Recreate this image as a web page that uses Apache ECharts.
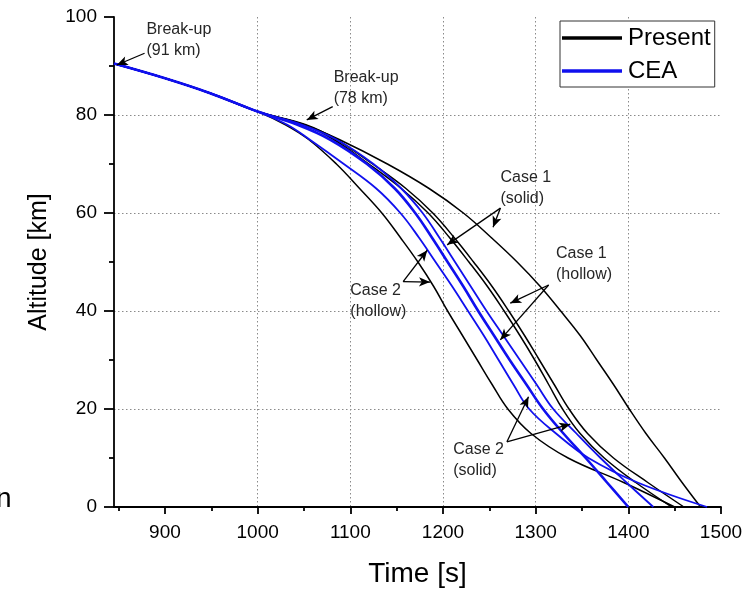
<!DOCTYPE html>
<html><head><meta charset="utf-8">
<script src="https://cdn.jsdelivr.net/npm/echarts@6/dist/echarts.min.js"></script>
<style>html,body{margin:0;padding:0;background:#fff}#c{width:752px;height:589px}</style>
</head><body><div id="c"></div>
<script>
// Altitude levels (km) shared by all trajectories
const altitudes = [90.5, 87.5, 84.5, 80.7, 78, 75, 70, 65, 60, 55, 50, 45, 40, 35, 30, 25, 20, 15, 10, 5, 0];
// Time (s) at which each trajectory reaches the altitude levels above
const presentCase2Hollow = [845, 900, 948, 1000, 1030, 1055, 1085, 1110, 1134, 1154, 1173, 1190, 1205, 1221, 1237, 1253, 1270, 1295, 1335, 1395, 1450];
const presentCase1Hollow = [845, 900, 948, 1000, 1050, 1082, 1120, 1155, 1184, 1207, 1228, 1248, 1266, 1283, 1299, 1314, 1329, 1348, 1374, 1408, 1447];
const presentCase2Solid  = [845, 900, 948, 1000, 1052, 1085, 1124, 1160, 1189, 1212, 1233, 1253, 1271, 1288, 1304, 1320, 1336, 1356, 1384, 1421, 1460];
const presentCase1Solid  = [845, 900, 948, 1000, 1050, 1088, 1140, 1185, 1222, 1252, 1280, 1305, 1327, 1348, 1366, 1384, 1401, 1419, 1439, 1458, 1478];
const ceaCase2Hollow = [845, 900, 948, 1000, 1032, 1056, 1093, 1128, 1154, 1174, 1192, 1210, 1227, 1244, 1260, 1276, 1293, 1322, 1357, 1410, 1485];
const ceaCase1Hollow = [845, 900, 948, 1000, 1043, 1078, 1118, 1148, 1170, 1188, 1205, 1222, 1238, 1255, 1272, 1290, 1308, 1330, 1354, 1377, 1400];
const ceaCase1Solid  = [845, 900, 948, 1000, 1048, 1085, 1125, 1155, 1178, 1196, 1213, 1230, 1247, 1265, 1283, 1301, 1319, 1344, 1370, 1398, 1427];

const xMajorTicks = [900, 1000, 1100, 1200, 1300, 1400, 1500];
const xMinorTicks = [850, 950, 1050, 1150, 1250, 1350, 1450];
const legendNames = ['Present', 'CEA'];

// Annotation texts with their anchor (time, altitude)
const noteTexts = ['Break-up\n(91 km)', 'Break-up\n(78 km)', 'Case 1\n(solid)', 'Case 1\n(hollow)', 'Case 2\n(hollow)', 'Case 2\n(solid)'];
const noteTimes = [880, 1082, 1262, 1322, 1100, 1211];
const noteAlts  = [99.5, 89.8, 69.3, 53.8, 46.3, 13.8];
// Arrows: tail (time, alt) -> head (time, alt)
const arrowTailT = [878, 1081, 1262, 1262, 1314, 1314, 1157, 1157, 1269, 1269];
const arrowTailA = [92.6, 81.7, 61, 61, 45.3, 45.3, 46, 46, 13.3, 13.3];
const arrowHeadT = [848, 1053, 1204.5, 1254, 1272.6, 1261.8, 1183, 1186, 1292.3, 1337.4];
const arrowHeadA = [90.2, 79, 53.5, 57.1, 41.6, 34.1, 52.4, 45.9, 22.5, 16.9];

const FONT = 'Liberation Sans, Arial, sans-serif';
const chart = echarts.init(document.getElementById('c'), null, {renderer: 'canvas'});

function mk(name, times, color, width) {
  return {
    type: 'line', name: name, data: times.map((t, i) => [t, altitudes[i]]),
    showSymbol: false, symbol: 'none', smooth: 0.4,
    lineStyle: {color: color, width: width}, itemStyle: {color: color},
    emphasis: {disabled: true}, silent: true, z: color === '#000' ? 2 : 3
  };
}

const blue = '#1010ee';
const series = [
  mk('Present', presentCase2Hollow, '#000', 1.5),
  mk('Present', presentCase1Hollow, '#000', 1.5),
  mk('Present', presentCase2Solid, '#000', 1.5),
  mk('Present', presentCase1Solid, '#000', 1.5),
  mk('CEA', ceaCase2Hollow, blue, 1.8),
  mk('CEA', ceaCase1Hollow, blue, 2.6),
  mk('CEA', ceaCase1Solid, blue, 1.8)
];
series[0].markLine = {
  silent: true, symbol: ['none', 'arrow'], symbolSize: [7, 11], animation: false,
  label: {show: false}, emphasis: {disabled: true},
  lineStyle: {color: '#000', width: 1.3, type: 'solid'},
  data: arrowTailT.map((t, i) => [{coord: [t, arrowTailA[i]]}, {coord: [arrowHeadT[i], arrowHeadA[i]]}])
};

const axisLineStyle = {color: '#000', width: 1.8};
const splitStyle = {color: '#8a8a8a', width: 1, type: [1.5, 2.5]};
const plain = v => String(v);

chart.setOption({
  animation: false,
  backgroundColor: '#fff',
  grid: {left: 114, right: 31, top: 17, bottom: 82, containLabel: false, outerBoundsMode: 'none'},
  legend: {
    data: legendNames, orient: 'vertical', left: 560, top: 21,
    padding: [5, 4, 4, 2], itemGap: 9, itemWidth: 60, itemHeight: 3.5, icon: 'rect',
    borderColor: '#333', borderWidth: 1, borderRadius: 0, backgroundColor: '#fff',
    textStyle: {fontSize: 24, color: '#000', fontFamily: FONT, padding: [0, 0, 0, 1]},
    selectedMode: false
  },
  xAxis: [{
    type: 'value', min: 845, max: 1500, position: 'bottom',
    name: 'Time [s]', nameLocation: 'middle', nameGap: 53,
    nameTextStyle: {fontSize: 28, color: '#000', fontFamily: FONT},
    axisLine: {show: true, onZero: false, lineStyle: axisLineStyle},
    axisTick: {show: true, customValues: xMajorTicks, length: 7, inside: false, lineStyle: axisLineStyle},
    axisLabel: {customValues: xMajorTicks, fontSize: 19, color: '#000', fontFamily: FONT, margin: 16, formatter: plain},
    splitLine: {show: true, showMinLine: false, showMaxLine: false, lineStyle: splitStyle}
  }, {
    type: 'value', min: 845, max: 1500, position: 'bottom', gridIndex: 0,
    axisLine: {show: false, onZero: false},
    axisTick: {show: true, customValues: xMinorTicks, length: 4, lineStyle: axisLineStyle},
    axisLabel: {show: false}, splitLine: {show: false}
  }],
  yAxis: {
    type: 'value', min: 0, max: 100, interval: 20,
    name: 'Altitude [km]', nameLocation: 'middle', nameGap: 62, nameRotate: 90,
    nameTextStyle: {fontSize: 25, color: '#000', fontFamily: FONT},
    axisLine: {show: true, onZero: false, lineStyle: axisLineStyle},
    axisTick: {show: true, length: 10, lineStyle: axisLineStyle},
    minorTick: {show: true, splitNumber: 2, length: 5, lineStyle: axisLineStyle},
    axisLabel: {fontSize: 19, color: '#000', fontFamily: FONT, margin: 17, formatter: plain},
    splitLine: {show: true, showMinLine: false, showMaxLine: false, lineStyle: splitStyle}
  },
  series: series
});

// place annotation texts via the chart's coordinate conversion
const graphics = noteTexts.map((txt, i) => {
  const p = chart.convertToPixel({gridIndex: 0}, [noteTimes[i], noteAlts[i]]);
  return {type: 'text', x: p[0], y: p[1], silent: true, z: 10,
    style: {text: txt, fontSize: 16, lineHeight: 21, fill: '#262626', fontFamily: FONT, verticalAlign: 'top', align: 'left'}};
});
graphics.push({type: 'text', x: -4, y: 499, silent: true,
  style: {text: 'n', fontSize: 28, fill: '#000', fontFamily: FONT, verticalAlign: 'middle', align: 'left'}});
chart.setOption({graphic: graphics});
</script>
</body></html>
